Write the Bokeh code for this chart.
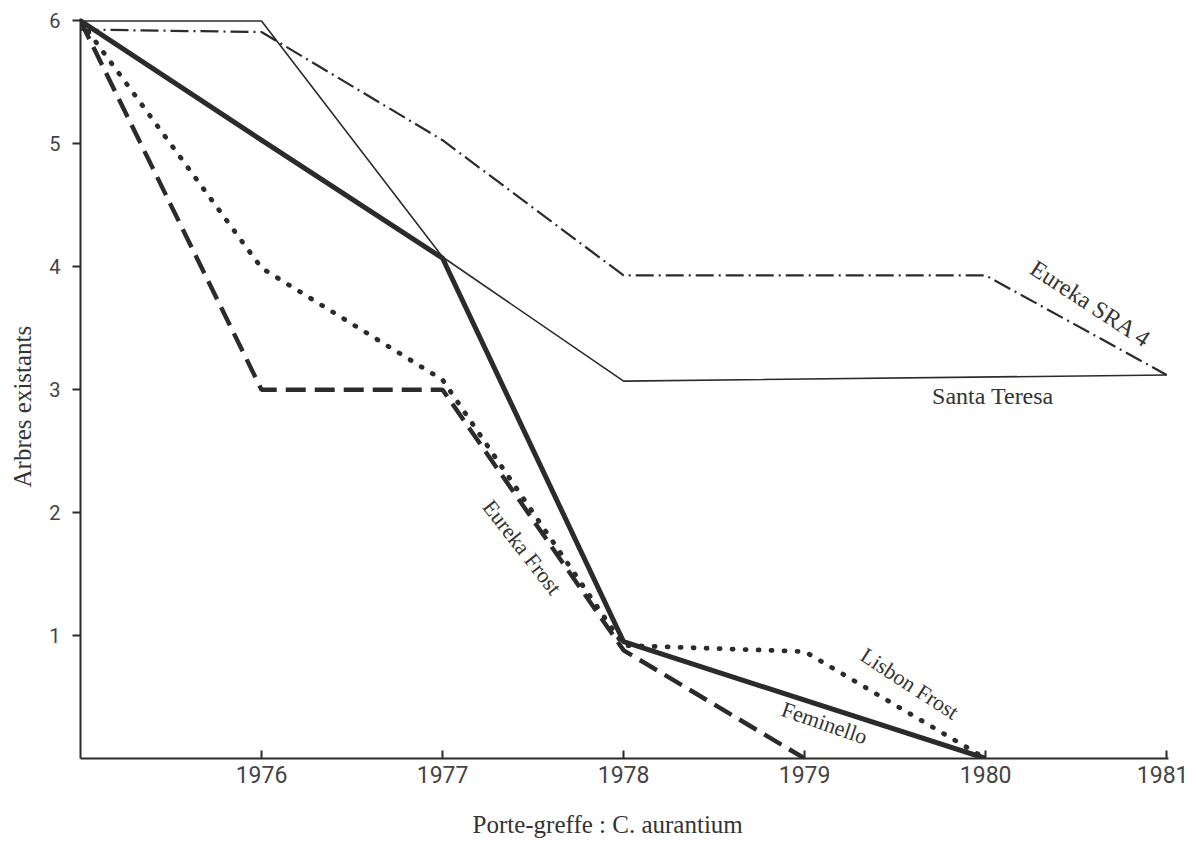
from bokeh.plotting import figure
from bokeh.models import Range1d, FixedTicker, Label, Title
from bokeh.embed import file_html
from bokeh.resources import INLINE
import math

# ---- data ----
tick_years = [1976, 1977, 1978, 1979, 1980, 1981]
tick_counts = [1, 2, 3, 4, 5, 6]

sra4_years = [1975, 1976, 1977, 1978, 1980, 1981]
sra4_trees = [5.93, 5.91, 5.03, 3.93, 3.93, 3.12]

teresa_years = [1975, 1976, 1977, 1978, 1981]
teresa_trees = [6.0, 6.0, 4.08, 3.07, 3.12]

feminello_years = [1975, 1976, 1977, 1978, 1980]
feminello_trees = [6.0, 5.03, 4.07, 0.95, 0.0]

lisbon_years = [1975, 1976, 1977, 1978, 1979, 1980]
lisbon_trees = [6.0, 3.99, 3.08, 0.92, 0.87, 0.0]

efrost_years = [1975, 1976, 1977, 1978, 1979]
efrost_trees = [6.0, 3.0, 3.0, 0.88, 0.0]

x_title = "Porte-greffe : C. aurantium"
y_title = "Arbres existants"

# ---- figure ----
p = figure(width=1188, height=846, output_backend="svg", toolbar_location=None,
           x_range=Range1d(1975, 1981.01), y_range=Range1d(0, 6.02),
           min_border_left=80, min_border_right=20, min_border_top=18,
           min_border_bottom=88, background_fill_color="white",
           border_fill_color="white")
p.outline_line_color = None
p.xgrid.visible = False
p.ygrid.visible = False

ink = "#2b2b2b"

p.line(teresa_years, teresa_trees, line_color=ink, line_width=1.6)
p.line(sra4_years, sra4_trees, line_color=ink, line_width=2.2, line_dash="18 5 2 5")
p.line(feminello_years, feminello_trees, line_color=ink, line_width=5,
       line_join="round")
p.line(lisbon_years, lisbon_trees, line_color=ink, line_width=4.8,
       line_dash="1 12", line_cap="round")
p.line(efrost_years, efrost_trees, line_color=ink, line_width=4.4,
       line_dash="20 9")

# ---- axes ----
xa = p.xaxis[0]
xa.ticker = FixedTicker(ticks=tick_years)
xa.major_tick_in = 8
xa.major_tick_out = 0
xa.minor_tick_line_color = None
xa.axis_line_width = 2
xa.axis_line_color = ink
xa.major_tick_line_width = 2
xa.major_tick_line_color = ink
xa.major_label_text_font = "Roboto"
xa.major_label_text_font_size = "23px"
xa.major_label_text_color = "#444444"
xa.major_label_standoff = 7

ya = p.yaxis[0]
ya.ticker = FixedTicker(ticks=tick_counts)
ya.major_tick_in = 0
ya.major_tick_out = 8
ya.minor_tick_line_color = None
ya.axis_line_width = 2
ya.axis_line_color = ink
ya.major_tick_line_width = 2
ya.major_tick_line_color = ink
ya.major_label_text_font = "Roboto"
ya.major_label_text_font_size = "20px"
ya.major_label_text_color = "#444444"
ya.major_label_standoff = 12

serif = "Liberation Serif"
txt = "#333333"

# axis titles as side titles (not clipped by the frame)
p.add_layout(Title(text="\n" + x_title, align="left", offset=392, standoff=4,
                   vertical_align="bottom", text_line_height=0.8,
                   text_font=serif, text_font_size="25px",
                   text_font_style="normal", text_color=txt), "below")
p.add_layout(Title(text=y_title, align="left", offset=271, standoff=17,
                   vertical_align="top",
                   text_font=serif, text_font_size="25px",
                   text_font_style="normal", text_color=txt), "left")

def add_label(x, y, text, angle_deg=0, size="22px", align="center"):
    p.add_layout(Label(x=x, y=y, text=text, angle=math.radians(angle_deg),
                       text_font=serif, text_font_size=size, text_color=txt,
                       text_align=align, text_baseline="middle"))

# series labels
add_label(1980.58, 3.70, "Eureka SRA 4", -33, "24px")
add_label(1980.04, 2.95, "Santa Teresa", 0, "24px")
add_label(1977.44, 1.72, "Eureka Frost", -52)
add_label(1979.58, 0.61, "Lisbon Frost", -33)
add_label(1979.11, 0.29, "Feminello", -19)

open("out.html", "w").write(file_html(p, INLINE))
